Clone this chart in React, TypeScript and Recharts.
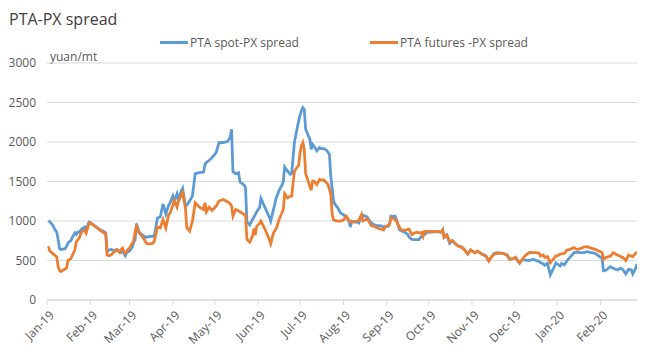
import React from 'react';
import { LineChart, Line, XAxis, YAxis, CartesianGrid, Legend } from 'recharts';

const dates = [
  '2019-01-02','2019-01-03','2019-01-05','2019-01-07','2019-01-08','2019-01-09','2019-01-10','2019-01-11','2019-01-14','2019-01-15',
  '2019-01-16','2019-01-17','2019-01-18','2019-01-19','2019-01-21','2019-01-22','2019-01-23','2019-01-24','2019-01-25','2019-01-26',
  '2019-01-28','2019-01-29','2019-01-31','2019-02-01','2019-02-02','2019-02-03','2019-02-08','2019-02-11','2019-02-12','2019-02-13',
  '2019-02-14','2019-02-16','2019-02-18','2019-02-20','2019-02-22','2019-02-23','2019-02-24','2019-02-25','2019-02-26','2019-02-27',
  '2019-03-01','2019-03-03','2019-03-04','2019-03-05','2019-03-06','2019-03-08','2019-03-11','2019-03-13','2019-03-14','2019-03-16',
  '2019-03-18','2019-03-19','2019-03-21','2019-03-23','2019-03-25','2019-03-27','2019-03-29','2019-03-30','2019-04-01','2019-04-02',
  '2019-04-04','2019-04-05','2019-04-07','2019-04-08','2019-04-10','2019-04-11','2019-04-13','2019-04-15','2019-04-17','2019-04-20',
  '2019-04-23','2019-04-24','2019-04-25','2019-04-27','2019-04-29','2019-05-02','2019-05-04','2019-05-07','2019-05-10','2019-05-12',
  '2019-05-13','2019-05-14','2019-05-16','2019-05-18','2019-05-19','2019-05-22','2019-05-23','2019-05-24','2019-05-26','2019-05-28',
  '2019-05-29','2019-05-30','2019-05-31','2019-06-02','2019-06-03','2019-06-06','2019-06-09','2019-06-10','2019-06-12','2019-06-14',
  '2019-06-16','2019-06-18','2019-06-19','2019-06-20','2019-06-22','2019-06-24','2019-06-25','2019-06-27','2019-06-30','2019-07-01',
  '2019-07-02','2019-07-03','2019-07-04','2019-07-05','2019-07-08','2019-07-09','2019-07-10','2019-07-11','2019-07-13','2019-07-15',
  '2019-07-16','2019-07-18','2019-07-20','2019-07-21','2019-07-22','2019-07-23','2019-07-24','2019-07-25','2019-07-26','2019-07-28',
  '2019-07-30','2019-08-01','2019-08-03','2019-08-05','2019-08-06','2019-08-07','2019-08-09','2019-08-11','2019-08-12','2019-08-14',
  '2019-08-15','2019-08-17','2019-08-18','2019-08-20','2019-08-21','2019-08-23','2019-08-25','2019-08-27','2019-08-29','2019-08-30',
  '2019-08-31','2019-09-02','2019-09-03','2019-09-04','2019-09-05','2019-09-07','2019-09-08','2019-09-10','2019-09-11','2019-09-14',
  '2019-09-16','2019-09-17','2019-09-19','2019-09-21','2019-09-23','2019-09-24','2019-09-26','2019-09-27','2019-09-28','2019-09-30',
  '2019-10-08','2019-10-10','2019-10-11','2019-10-12','2019-10-14','2019-10-16','2019-10-18','2019-10-21','2019-10-23','2019-10-25',
  '2019-10-27','2019-10-29','2019-10-31','2019-11-03','2019-11-05','2019-11-08','2019-11-11','2019-11-13','2019-11-15','2019-11-17',
  '2019-11-19','2019-11-23','2019-11-26','2019-11-28','2019-12-01','2019-12-02','2019-12-05','2019-12-07','2019-12-09','2019-12-12',
  '2019-12-15','2019-12-17','2019-12-19','2019-12-20','2019-12-22','2019-12-23','2019-12-25','2019-12-27','2019-12-29','2019-12-31',
  '2020-01-01','2020-01-03','2020-01-04','2020-01-06','2020-01-08','2020-01-10','2020-01-13','2020-01-15','2020-01-16','2020-01-18',
  '2020-01-20','2020-01-22','2020-01-28','2020-02-02','2020-02-03','2020-02-05','2020-02-08','2020-02-10','2020-02-13','2020-02-15',
  '2020-02-16','2020-02-17','2020-02-19','2020-02-20','2020-02-21','2020-02-23','2020-02-24','2020-02-26','2020-02-27',
];

const spotSpread = [
  1004, 990, 950, 880, 860, 760, 650, 640, 650, 680,
  720, 740, 750, 790, 850, 830, 860, 856, 880, 900,
  924, 890, 987, 980, 965, 955, 890, 860, 850, 610,
  630, 640, 623, 640, 610, 602, 630, 590, 560, 600,
  620, 669, 729, 760, 966, 856, 813, 792, 800, 805,
  805, 830, 1038, 1051, 1216, 1089, 1200, 1230, 1316, 1252,
  1345, 1261, 1380, 1413, 1189, 1200, 1252, 1316, 1599, 1612,
  1620, 1717, 1740, 1768, 1802, 1865, 1992, 1992, 2005, 2056,
  2162, 1624, 1599, 1612, 1497, 1455, 1421, 990, 948, 1019,
  1049, 1080, 1117, 1167, 1286, 1167, 1049, 998, 1146, 1294,
  1387, 1450, 1497, 1684, 1633, 1590, 1599, 2001, 2267, 2339,
  2400, 2436, 2415, 2162, 2035, 1908, 1971, 1950, 1887, 1929,
  1916, 1916, 1895, 1870, 1844, 1569, 1400, 1250, 1210, 1167,
  1100, 1080, 1041, 996, 924, 996, 986, 986, 975, 1062,
  1072, 1059, 1053, 996, 977, 953, 943, 941, 935, 898,
  935, 932, 956, 1062, 1059, 1062, 1017, 890, 880, 856,
  829, 797, 766, 763, 763, 763, 814, 826, 826, 857,
  865, 857, 886, 793, 823, 717, 751, 696, 675, 667,
  625, 582, 633, 599, 620, 582, 557, 494, 549, 591,
  599, 591, 570, 515, 528, 540, 464, 515, 506, 498,
  515, 498, 490, 473, 456, 440, 464, 317, 390, 470,
  456, 430, 464, 443, 498, 540, 599, 603, 603, 600,
  599, 612, 590, 528, 371, 380, 422, 401, 380, 401,
  395, 380, 329, 360, 388, 380, 329, 401, 456,
];

const futuresSpread = [
  678, 620, 590, 560, 545, 420, 375, 360, 395, 405,
  500, 510, 525, 560, 640, 740, 760, 785, 830, 869,
  880, 847, 970, 975, 960, 950, 880, 845, 839, 570,
  559, 572, 610, 636, 602, 640, 657, 610, 593, 620,
  657, 720, 754, 860, 932, 847, 784, 720, 712, 712,
  720, 763, 924, 911, 1017, 911, 1080, 1100, 1200, 1261,
  1176, 1250, 1328, 1358, 1167, 914, 871, 998, 1231, 1176,
  1146, 1231, 1117, 1176, 1134, 1189, 1252, 1273, 1244, 1220,
  1189, 1062, 1146, 1130, 1117, 1083, 1083, 766, 732, 808,
  905, 821, 935, 970, 998, 892, 766, 711, 850, 905,
  1019, 1100, 1146, 1345, 1294, 1316, 1316, 1633, 1705, 1865,
  1950, 1992, 1908, 1600, 1440, 1390, 1506, 1504, 1462, 1527,
  1517, 1519, 1483, 1463, 1400, 1335, 1080, 1011, 1008, 998,
  998, 1011, 1062, 1011, 983, 990, 996, 1000, 1008, 1083,
  1000, 1017, 1028, 970, 941, 930, 915, 901, 890, 900,
  924, 943, 953, 1041, 1038, 1019, 996, 926, 890, 881,
  893, 898, 826, 850, 859, 847, 856, 805, 869, 869,
  865, 857, 886, 793, 823, 738, 751, 696, 675, 667,
  625, 582, 633, 599, 620, 582, 557, 494, 549, 580,
  590, 591, 570, 515, 528, 540, 470, 515, 560, 603,
  600, 599, 591, 557, 570, 540, 549, 473, 515, 557,
  557, 582, 585, 591, 633, 641, 663, 641, 645, 654,
  670, 675, 641, 603, 515, 540, 557, 599, 570, 555,
  540, 540, 498, 530, 570, 555, 549, 590, 603,
];

const monthTicks = [
  '2019-01-01','2019-02-01','2019-03-01','2019-04-01','2019-05-01','2019-06-01','2019-07-01',
  '2019-08-01','2019-09-01','2019-10-01','2019-11-01','2019-12-01','2020-01-01','2020-02-01',
];
const yTicks = [0, 500, 1000, 1500, 2000, 2500, 3000];
const MONTHS = ['Jan','Feb','Mar','Apr','May','Jun','Jul','Aug','Sep','Oct','Nov','Dec'];

const xStart = Date.parse('2019-01-01');
const xEnd = Date.parse('2020-02-27');

const data = dates.map((d, i) => ({
  t: Date.parse(d),
  spot: spotSpread[i],
  futures: futuresSpread[i],
}));
const xTicks = monthTicks.map((d) => Date.parse(d));

const fmtMonth = (t: number) => {
  const dt = new Date(t);
  return MONTHS[dt.getUTCMonth()] + '-' + String(dt.getUTCFullYear() % 100).padStart(2, '0');
};

const FONT = '"Open Sans", "Noto Sans", sans-serif';
const TEXT = '#595959';

const XTick = (props: any) => {
  const { x, y, payload } = props;
  return (
    <g transform={`translate(${x + 5},${y + 6})`}>
      <text x={0} y={0} dy={4} textAnchor="end" transform="rotate(-45)" fill={TEXT} fontSize={12} fontFamily={FONT}>
        {fmtMonth(payload.value)}
      </text>
    </g>
  );
};

const legendLeft: Record<string, number> = { spot: 160, futures: 370 };
const legendOrder = ['spot', 'futures'];

const renderLegend = (props: any) => {
  const payload = (props.payload || []).slice().sort(
    (a: any, b: any) => legendOrder.indexOf(a.dataKey) - legendOrder.indexOf(b.dataKey)
  );
  return (
    <div style={{ position: 'relative', width: 668, height: 20 }}>
      {payload.map((p: any) => (
        <div key={p.dataKey} style={{ position: 'absolute', left: legendLeft[p.dataKey], top: 0, display: 'flex', alignItems: 'center', fontFamily: FONT, fontSize: 12, color: TEXT, whiteSpace: 'nowrap' }}>
          <span style={{ display: 'inline-block', width: 28, height: 3, background: p.color, marginRight: 2 }} />
          <span>{p.value}</span>
        </div>
      ))}
    </div>
  );
};

export default function App() {
  return (
    <div style={{ position: 'absolute', left: 0, top: 0, width: 668, height: 361, background: '#fff' }}>
      <div style={{ position: 'absolute', left: 9, top: 8, fontFamily: FONT, fontSize: 16, color: '#404040' }}>PTA-PX spread</div>
      <div style={{ position: 'absolute', left: 50, top: 48, fontFamily: FONT, fontSize: 12, color: TEXT }}>yuan/mt</div>
      <LineChart width={668} height={361} data={data} margin={{ top: 43, right: 31, bottom: 11, left: 7 }}>
        <CartesianGrid horizontal={true} vertical={false} stroke="#D9D9D9" strokeWidth={1} />
        <XAxis
          dataKey="t"
          type="number"
          scale="linear"
          domain={[xStart, xEnd]}
          ticks={xTicks}
          interval={0}
          tick={<XTick />}
          tickSize={5}
          tickMargin={2}
          axisLine={{ stroke: '#D9D9D9' }}
          tickLine={{ stroke: '#D9D9D9' }}
          height={50}
          allowDataOverflow
        />
        <YAxis
          domain={[0, 3000]}
          ticks={yTicks}
          interval={0}
          axisLine={false}
          tickLine={false}
          tickSize={0}
          tickMargin={11}
          width={40}
          tick={{ fill: TEXT, fontSize: 12, fontFamily: FONT }}
        />
        <Legend verticalAlign="top" align="left" content={renderLegend} wrapperStyle={{ top: 34, left: 0, width: 668 }} />
        <Line type="linear" dataKey="spot" name="PTA spot-PX spread" stroke="#5B9BD5" strokeWidth={2.75} dot={false} isAnimationActive={false} />
        <Line type="linear" dataKey="futures" name="PTA futures -PX spread" stroke="#ED7D31" strokeWidth={2.75} dot={false} isAnimationActive={false} />
      </LineChart>
    </div>
  );
}
